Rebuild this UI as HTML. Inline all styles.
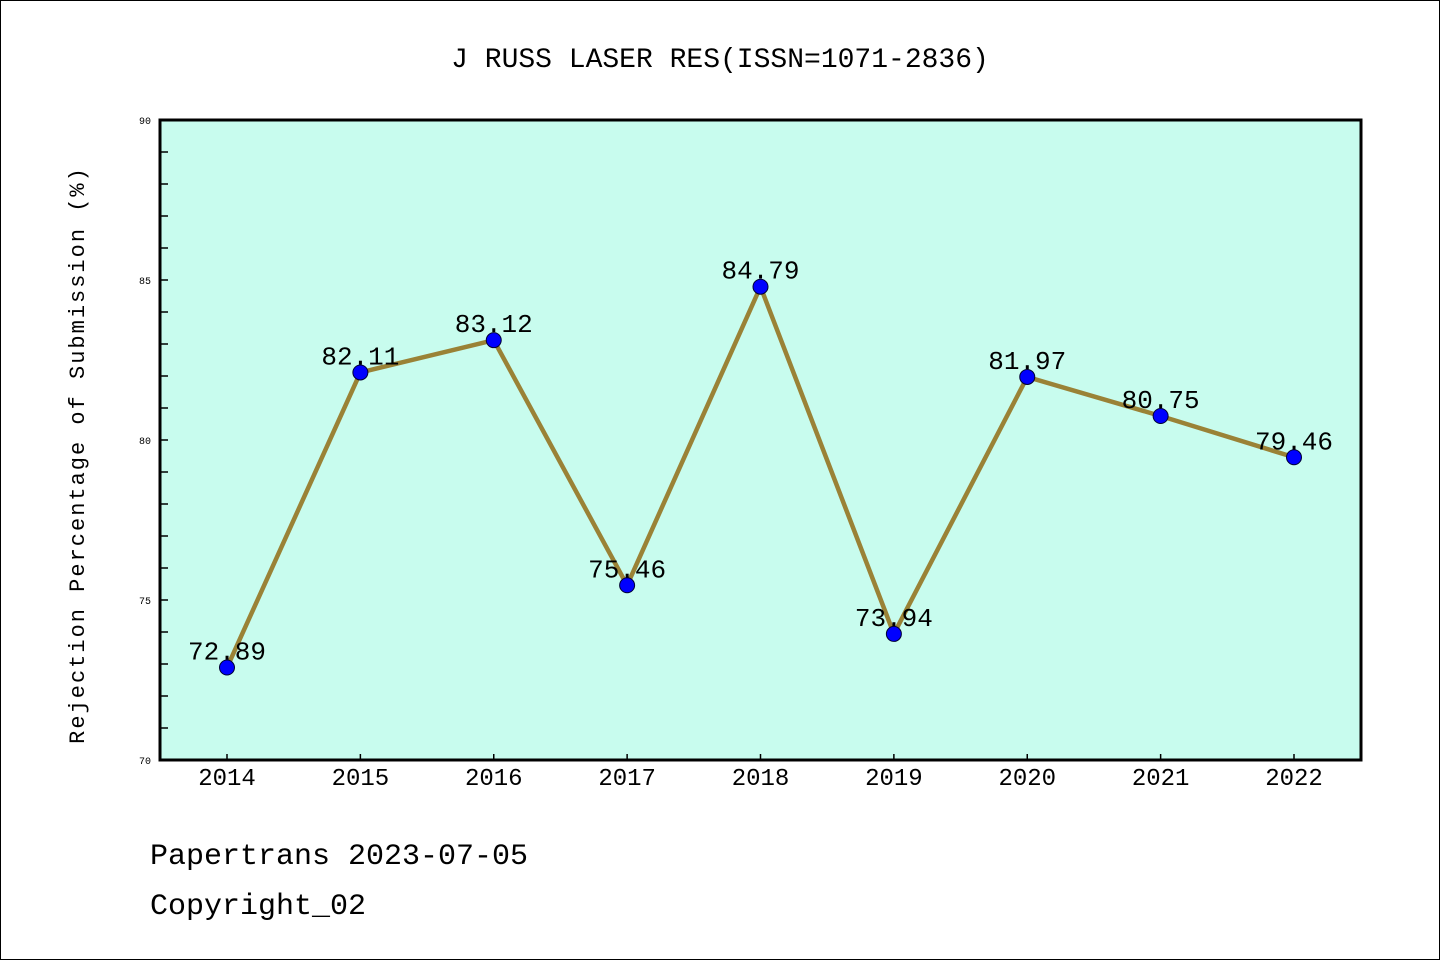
<!DOCTYPE html>
<html><head><meta charset="utf-8"><style>
body{margin:0;background:#fff;}
svg text{font-family:"Liberation Mono","WenQuanYi Zen Hei",monospace;}
</style></head><body>
<svg width="1440" height="960" viewBox="0 0 1440 960">
<rect x="0.5" y="0.5" width="1439" height="959" fill="#fff" stroke="#000"/>
<text x="720" y="67" font-size="28" text-anchor="middle">J RUSS LASER RES(ISSN=1071-2836)</text>
<rect x="160" y="120" width="1201" height="640" fill="#c8fcee"/>
<g id="axes"></g>
<g id="marks"></g>
<rect x="160" y="120" width="1201" height="640" fill="none" stroke="#000" stroke-width="3"/>
<text transform="translate(84,455) rotate(-90)" font-size="22" text-anchor="middle" letter-spacing="2">Rejection Percentage of Submission (%)</text>
<text x="150" y="864" font-size="30">Papertrans 2023-07-05</text>
<text x="150" y="914" font-size="30">Copyright_02</text>
</svg>
<script>
const years=["2014","2015","2016","2017","2018","2019","2020","2021","2022"];
const values=[72.89,82.11,83.12,75.46,84.79,73.94,81.97,80.75,79.46];
const yTicks=[70,75,80,85,90];
(function(){
const NS="http://www.w3.org/2000/svg";
const x0=227,x1=1294,yMin=70,yMax=90,pTop=120,pBot=760;
const xs=i=>x0+(x1-x0)*i/(years.length-1);
const ys=v=>pBot-(v-yMin)/(yMax-yMin)*(pBot-pTop);
function mk(t,a,p){const e=document.createElementNS(NS,t);for(const k in a)e.setAttribute(k,a[k]);p.appendChild(e);return e;}
const ax=document.getElementById('axes'),mg=document.getElementById('marks');
for(let v=yMin;v<=yMax;v++){const y=ys(v);
 const t=mk('line',{x1:160,x2:168,y1:y,y2:y,stroke:'#000','stroke-width':1.5},ax);
 
 }
yTicks.forEach(v=>{const t=mk('text',{x:151,y:ys(v)+4,'font-size':10,'text-anchor':'end'},ax);t.textContent=v;
 
 });
years.forEach((yr,i)=>{const x=xs(i);
 const t=mk('line',{x1:x,x2:x,y1:760,y2:754,stroke:'#000','stroke-width':1.5},ax);
 
 
 const l=mk('text',{x:x,y:785,'font-size':24,'text-anchor':'middle'},ax);l.textContent=yr;
 
 });
const pl=mk('polyline',{points:values.map((v,i)=>xs(i)+','+ys(v)).join(' '),fill:'none',stroke:'#9a8236','stroke-width':4.5},mg);


values.forEach((v,i)=>{
 const c=mk('circle',{cx:xs(i),cy:ys(v),r:7.5,fill:'#0000ff',stroke:'#000033','stroke-width':1},mg);
 
 
 const t=mk('text',{x:xs(i),y:ys(v)-8,'font-size':26,'text-anchor':'middle'},mg);t.textContent=v.toFixed(2);
 
 });
})();
</script>
</body></html>
